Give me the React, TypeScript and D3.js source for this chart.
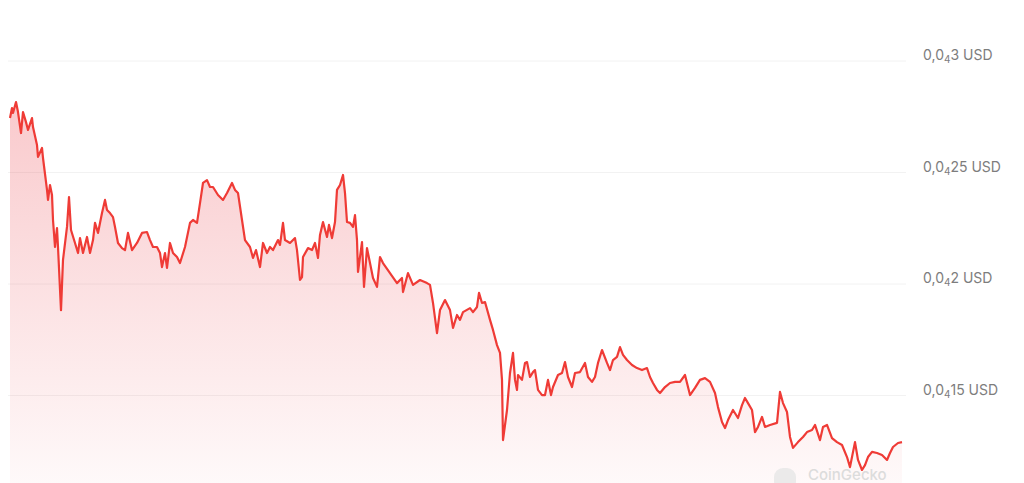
import React, { useEffect, useRef } from "react";
import * as d3 from "d3";

// time in hours since start of the window
const hours = [
  0, 1.6, 2.4, 4.8, 6.4, 8.8, 10.4, 12.8, 14.4, 17.6, 18.4, 21.6, 22.4, 25.6, 26.4, 29.6, 30.4, 32, 33.6, 34.4,
  36, 37.6, 38.4, 40.8, 42.4, 45.6, 47.2, 48.8, 52, 54.4, 56, 58.4, 61.6, 64, 66.4, 68, 70.4, 73.6, 76, 77.6,
  80, 82.4, 84, 86.4, 89.6, 92, 94.4, 97.6, 101.6, 105.6, 109.6, 112, 114.4, 117.6, 120, 121.6, 124, 125.6, 128, 130.4,
  133.6, 136, 140, 144, 146.4, 149.6, 152, 154.4, 157.6, 160, 162.4, 166.4, 170.4, 173.6, 177.6, 180, 182.4, 185.6, 188, 192,
  194.4, 196.8, 200, 202.4, 205.6, 208, 210.4, 214.4, 216, 218.4, 220, 224, 228, 229.6, 232, 233.6, 234.4, 238.4, 241.6, 244,
  246.4, 248, 250.4, 253.6, 255.2, 257.6, 260, 261.6, 264, 266.4, 268, 269.6, 272, 274.4, 276, 277.6, 278.4, 281.6, 283.2, 285.6,
  288, 290.4, 293.6, 296, 298.4, 304, 309.6, 313.6, 314.4, 318.4, 322.4, 328, 333.6, 336, 338.4, 341.6, 344, 348, 352, 354.4,
  357.6, 360, 362.4, 368, 370.4, 373.6, 375.2, 377.6, 380, 384, 386.4, 389.6, 392, 393.6, 394.4, 397.6, 400, 402.4, 404, 405.6,
  406.4, 409.6, 412, 413.6, 416, 418.4, 420, 422.4, 425.6, 428, 430.4, 432.8, 434.4, 438.4, 441.6, 444, 446.4, 449.6, 452, 456,
  460, 462.4, 465.6, 468, 470.4, 473.6, 477.6, 480, 482.4, 485.6, 488, 490.4, 493.6, 497.6, 501.6, 505.6, 509.6, 512, 514.4, 517.6,
  520, 524, 528, 532, 536, 540, 544, 548, 552, 556, 560, 564, 566.4, 569.6, 572, 574.4, 578.4, 582.4, 585.6, 588,
  590.4, 593.6, 596, 598.4, 601.6, 604, 608, 613.6, 616, 618.4, 621.6, 624, 626.4, 630.4, 634.4, 637.6, 641.6, 644, 648, 650.4,
  653.6, 657.6, 661.6, 665.6, 669.6, 672, 676, 678.4, 681.6, 684, 686.4, 689.6, 693.6, 697.6, 701.6, 704, 706.4, 710.4, 713.6,
];

// price in units of 1e-5 USD
const prices = [
  2.744, 2.789, 2.767, 2.816, 2.771, 2.677, 2.771, 2.726, 2.691, 2.744, 2.704, 2.623, 2.57, 2.61, 2.565, 2.422, 2.377, 2.444, 2.399, 2.287,
  2.166, 2.251, 2.166, 1.883, 2.108, 2.256, 2.39, 2.242, 2.184, 2.139, 2.206, 2.139, 2.211, 2.139, 2.197, 2.274, 2.229, 2.318, 2.377, 2.332,
  2.318, 2.3, 2.256, 2.184, 2.161, 2.152, 2.229, 2.152, 2.184, 2.229, 2.233, 2.197, 2.166, 2.166, 2.139, 2.076, 2.139, 2.072, 2.184, 2.139,
  2.121, 2.094, 2.166, 2.274, 2.287, 2.274, 2.363, 2.453, 2.466, 2.435, 2.435, 2.399, 2.377, 2.408, 2.453, 2.422, 2.408, 2.287, 2.197, 2.166,
  2.117, 2.152, 2.076, 2.184, 2.139, 2.166, 2.152, 2.197, 2.175, 2.274, 2.197, 2.184, 2.206, 2.152, 2.018, 2.031, 2.121, 2.161, 2.152, 2.184,
  2.117, 2.22, 2.278, 2.211, 2.265, 2.206, 2.278, 2.422, 2.444, 2.489, 2.408, 2.278, 2.274, 2.256, 2.309, 2.197, 2.054, 2.188, 1.987, 2.161,
  2.094, 2.027, 1.987, 2.121, 2.094, 2.049, 2.004, 2.027, 1.964, 2.049, 1.996, 2.018, 2.004, 1.996, 1.915, 1.78, 1.883, 1.928, 1.883, 1.803,
  1.861, 1.839, 1.874, 1.892, 1.874, 1.897, 1.96, 1.915, 1.919, 1.839, 1.794, 1.726, 1.691, 1.57, 1.3, 1.435, 1.601, 1.691, 1.57, 1.525,
  1.592, 1.57, 1.646, 1.65, 1.583, 1.605, 1.614, 1.525, 1.502, 1.502, 1.57, 1.502, 1.538, 1.592, 1.601, 1.65, 1.583, 1.538, 1.601, 1.605,
  1.646, 1.583, 1.561, 1.583, 1.646, 1.704, 1.646, 1.614, 1.659, 1.673, 1.717, 1.682, 1.659, 1.637, 1.623, 1.614, 1.623, 1.583, 1.556, 1.525,
  1.511, 1.538, 1.556, 1.561, 1.561, 1.592, 1.502, 1.534, 1.57, 1.578, 1.561, 1.511, 1.448, 1.381, 1.354, 1.39, 1.435, 1.399, 1.457, 1.489,
  1.466, 1.435, 1.336, 1.359, 1.404, 1.359, 1.368, 1.377, 1.516, 1.466, 1.426, 1.314, 1.265, 1.291, 1.314, 1.336, 1.345, 1.368, 1.3, 1.359,
  1.368, 1.309, 1.291, 1.278, 1.224, 1.179, 1.291, 1.211, 1.166, 1.188, 1.224, 1.247, 1.242, 1.233, 1.211, 1.242, 1.269, 1.287, 1.291,
];

// y-axis ticks (units of 1e-5 USD) and their label digits after "0,0₄"
const tickValues = [3, 2.5, 2, 1.5];
const tickDigits = ["3", "25", "2", "15"];

const W = 1024;
const H = 483;

export default function App() {
  const ref = useRef<SVGSVGElement | null>(null);

  useEffect(() => {
    const svg = d3.select(ref.current);
    svg.selectAll("*").remove();

    const data = hours.map((h, i) => ({ h, p: prices[i] }));
    const x = d3.scaleLinear().domain(d3.extent(hours) as [number, number]).range([10, 902]);
    const y = d3.scaleLinear().domain([1.5, 3]).range([395.5, 61]);

    const defs = svg.append("defs");
    const grad = defs
      .append("linearGradient")
      .attr("id", "fillGrad")
      .attr("x1", 0)
      .attr("x2", 0)
      .attr("gradientUnits", "userSpaceOnUse")
      .attr("y1", y(2.82))
      .attr("y2", H);
    grad.append("stop").attr("offset", "0%").attr("stop-color", "#ea3943").attr("stop-opacity", 0.27);
    grad.append("stop").attr("offset", "100%").attr("stop-color", "#ea3943").attr("stop-opacity", 0.03);

    // gridlines
    svg
      .append("g")
      .selectAll("line")
      .data(tickValues)
      .join("line")
      .attr("x1", 8)
      .attr("x2", 906)
      .attr("y1", (d) => y(d))
      .attr("y2", (d) => y(d))
      .attr("stroke", "#f2f2f2")
      .attr("stroke-width", 1);

    const area = d3
      .area<{ h: number; p: number }>()
      .x((d) => x(d.h))
      .y0(H)
      .y1((d) => y(d.p));
    svg.append("path").datum(data).attr("d", area).attr("fill", "url(#fillGrad)");

    // watermark
    const wm = svg.append("g");
    wm.append("rect")
      .attr("x", 774)
      .attr("y", 468)
      .attr("width", 22)
      .attr("height", 22)
      .attr("rx", 9)
      .attr("fill", "#e6e6e6")
      .attr("opacity", 0.8);
    wm.append("text")
      .attr("x", 808)
      .attr("y", 480)
      .attr("font-family", "Inter, 'Open Sans', sans-serif")
      .attr("font-size", 15)
      .attr("font-weight", 500)
      .attr("fill", "#dcdcdc")
      .text("CoinGecko");

    const line = d3
      .line<{ h: number; p: number }>()
      .x((d) => x(d.h))
      .y((d) => y(d.p));
    svg
      .append("path")
      .datum(data)
      .attr("d", line)
      .attr("fill", "none")
      .attr("stroke", "#ef3b36")
      .attr("stroke-width", 2.2)
      .attr("stroke-linejoin", "round");

    // y labels
    const labels = svg
      .append("g")
      .selectAll("text")
      .data(tickValues)
      .join("text")
      .attr("x", 923)
      .attr("y", (d) => y(d) - 1)
      .attr("font-family", "Inter, 'Open Sans', sans-serif")
      .attr("font-size", 14)
      .attr("fill", "#7d7d7d");
    labels.append("tspan").text("0,0");
    labels
      .append("tspan")
      .attr("font-size", 10)
      .attr("dy", 3)
      .text("4");
    labels
      .append("tspan")
      .attr("dy", -3)
      .text((d, i) => tickDigits[i] + " USD");
  }, []);

  return (
    <svg
      ref={ref}
      width={W}
      height={H}
      style={{ position: "absolute", left: 0, top: 0, background: "#fff", display: "block" }}
    />
  );
}
